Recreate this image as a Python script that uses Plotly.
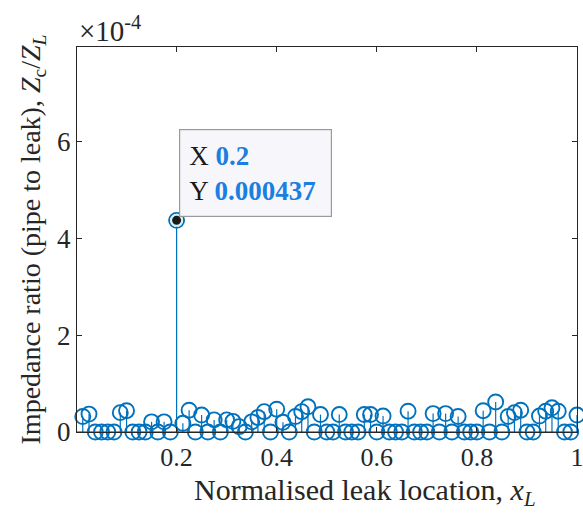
import plotly.graph_objects as go

# Data (impedance ratio in units of 1e-4)
N = 80
x_loc = [k / N for k in range(1, N + 1)]
ratio_e4 = [
    0.32, 0.37, 0, 0, 0, 0, 0.40, 0.44, 0, 0,
    0, 0.21, 0, 0.21, 0, 4.37, 0.18, 0.45, 0, 0.35,
    0, 0.25, 0, 0.25, 0.22, 0.11, 0, 0.21, 0.30, 0.42,
    0, 0.47, 0.20, 0, 0.32, 0.42, 0.52, 0, 0.36, 0,
    0, 0.36, 0, 0, 0, 0.36, 0.36, 0, 0.33, 0,
    0, 0, 0.43, 0, 0, 0, 0.38, 0, 0.38, 0,
    0.32, 0, 0, 0, 0.44, 0, 0.62, 0, 0.32, 0.40,
    0.45, 0, 0, 0.33, 0.43, 0.50, 0.43, 0, 0, 0.35,
]
ratio = [v * 1e-4 for v in ratio_e4]
y_ticks = [0, 2, 4, 6]
x_ticks = [0.2, 0.4, 0.6, 0.8, 1]
tip_x = 0.2
tip_y = 0.000437

blue = "#0072BD"
ink = "#262626"
font_family = "Liberation Serif"

stem_x, stem_y = [], []
for xv, yv in zip(x_loc, ratio):
    stem_x += [xv, xv, None]
    stem_y += [0, yv, None]

fig = go.Figure()
fig.add_trace(go.Scatter(x=stem_x, y=stem_y, mode="lines",
                         line=dict(color=blue, width=1.2),
                         hoverinfo="skip", showlegend=False, cliponaxis=False))
# baseline
fig.add_trace(go.Scatter(x=[0.001, 1], y=[0, 0], mode="lines",
                         line=dict(color=ink, width=1.2),
                         hoverinfo="skip", showlegend=False))
fig.add_trace(go.Scatter(x=x_loc, y=ratio, mode="markers",
                         marker=dict(symbol="circle-open", size=15,
                                     line=dict(color=blue, width=1.9), color=blue),
                         showlegend=False, cliponaxis=False))
# data tip marker
fig.add_trace(go.Scatter(x=[tip_x], y=[tip_y], mode="markers",
                         marker=dict(symbol="circle", size=11, color="#1a1a1a",
                                     line=dict(color="#d8f0ee", width=2)),
                         showlegend=False, cliponaxis=False))

fig.add_annotation(
    x=tip_x, y=tip_y, xref="x", yref="y",
    text=("X <b><span style='color:#1a7fe0'>0.2</span></b><br>"
          "Y <b><span style='color:#1a7fe0'>0.000437</span></b>"),
    showarrow=False, xanchor="left", yanchor="bottom", align="left", valign="middle",
    xshift=2, yshift=3, width=133, height=68,
    font=dict(family=font_family, size=27, color="#1a1a1a"),
    bgcolor="#f7f7fb", bordercolor="#9a9a9a", borderwidth=1.2, borderpad=9,
)

fig.add_annotation(
    x=0, y=1, xref="paper", yref="paper",
    text="\u00d710<sup>-4</sup>", showarrow=False,
    xanchor="left", yanchor="bottom", yshift=-2,
    font=dict(family=font_family, size=29, color=ink),
)

# x-axis title (placed as annotation to match reference position)
fig.add_annotation(
    x=0.575, y=0, xref="paper", yref="paper",
    text="Normalised leak location, <i>x</i><sub><i>L</i></sub>",
    showarrow=False, xanchor="center", yanchor="top", yshift=-39,
    font=dict(family=font_family, size=30, color=ink),
)

fig.update_layout(
    width=583, height=514,
    margin=dict(l=77, r=6, t=47, b=82),
    paper_bgcolor="white", plot_bgcolor="white",
    font=dict(family=font_family, size=26, color=ink),
    xaxis=dict(range=[0.001, 1], tickvals=x_ticks,
               ticktext=[f"{v:g}" for v in x_ticks],
               ticks="inside", ticklen=5, tickcolor=ink, ticklabeloverflow="allow",
               ticklabelstandoff=2,
               showline=True, linecolor=ink, linewidth=1.2, mirror="ticks",
               showgrid=False, zeroline=False, tickfont=dict(size=26),
               automargin=False),
    yaxis=dict(range=[0, 7.95e-4], tickvals=[v * 1e-4 for v in y_ticks],
               ticktext=[str(v) for v in y_ticks],
               ticks="inside", ticklen=5, tickcolor=ink,
               showline=True, linecolor=ink, linewidth=1.2, mirror="ticks",
               showgrid=False, zeroline=False, tickfont=dict(size=27),
               automargin=False,
               title=dict(text="Impedance ratio (pipe to leak), <i>Z</i><sub>c</sub>/<i>Z</i><sub><i>L</i></sub>",
                          standoff=8, font=dict(size=28))),
)

fig.write_html("out.html")
